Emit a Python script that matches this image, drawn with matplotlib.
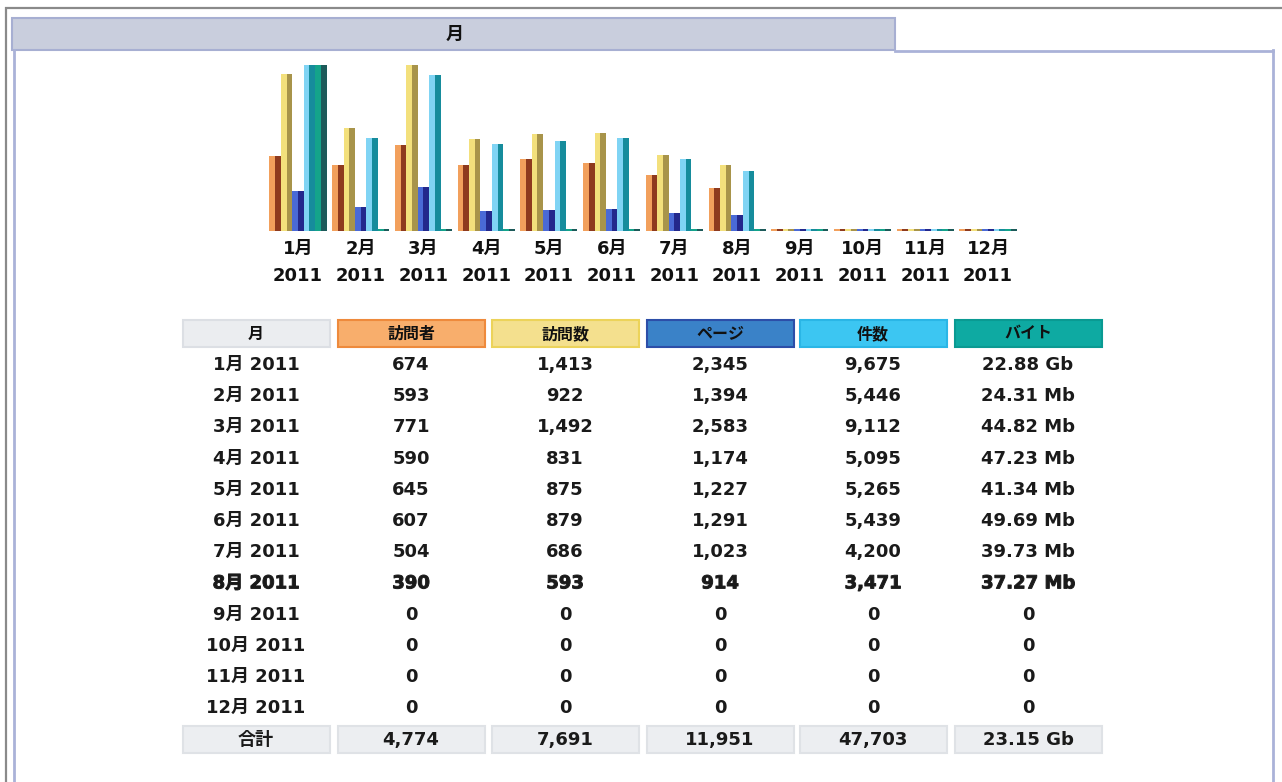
import numpy as np
import matplotlib
matplotlib.use('Agg')
import matplotlib.pyplot as plt
from matplotlib.patches import Rectangle
import matplotlib.patheffects as pe

plt.rcParams['font.family'] = ['DejaVu Sans', 'Noto Sans CJK JP']

# monthly history, 2011
months = ['1月', '2月', '3月', '4月', '5月', '6月', '7月', '8月', '9月', '10月', '11月', '12月']
year = '2011'
visitors = [674, 593, 771, 590, 645, 607, 504, 390, 0, 0, 0, 0]
visits = [1413, 922, 1492, 831, 875, 879, 686, 593, 0, 0, 0, 0]
pages = [2345, 1394, 2583, 1174, 1227, 1291, 1023, 914, 0, 0, 0, 0]
hits = [9675, 5446, 9112, 5095, 5265, 5439, 4200, 3471, 0, 0, 0, 0]
bytes_mb = [22.88 * 1024, 24.31, 44.82, 47.23, 41.34, 49.69, 39.73, 37.27, 0, 0, 0, 0]
bytes_labels = ['22.88 Gb', '24.31 Mb', '44.82 Mb', '47.23 Mb', '41.34 Mb', '49.69 Mb',
                '39.73 Mb', '37.27 Mb', '0', '0', '0', '0']
headers = ['月', '訪問者', '訪問数', 'ページ', '件数', 'バイト']
totals = ['合計', '4,774', '7,691', '11,951', '47,703', '23.15 Gb']
current = 7  # 8月 is the current month (bold row)

fig = plt.figure(figsize=(12.82, 7.82), dpi=100)
bg = fig.add_axes([0, 0, 1, 1])
bg.set_xlim(0, 1282)
bg.set_ylim(782, 0)
bg.axis('off')

# page frame
bg.plot([5, 1282], [7.5, 7.5], color='#8a8a8a', lw=1.6, solid_capstyle='butt')
bg.plot([5.5, 5.5], [7, 782], color='#8a8a8a', lw=1.6, solid_capstyle='butt')
bg.add_patch(Rectangle((12, 18), 883, 32, fc='#c9cedd', ec='#a7afd2', lw=1.5))
box = '#aab2d8'
bg.plot([13.5, 13.5], [50, 782], color=box, lw=2)
bg.plot([895, 1273], [50.5, 50.5], color=box, lw=2)
bg.plot([1273, 1273], [50, 782], color=box, lw=2)
bg.text(455, 35, '月', ha='center', va='center', fontsize=13, fontweight='bold', color='#111')

# bar chart
ax = fig.add_axes([266.6 / 1282, (782 - 231) / 782, 752.8 / 1282, 166 / 782])
ax.set_xlim(-0.5, 11.5)
ax.set_ylim(0, 1)
ax.axis('off')

x = np.arange(len(months))
w = 0.182
series = [
    (visitors, max(visits), '#f2a05c', '#8e3a1e'),
    (visits, max(visits), '#f3e07c', '#a8944a'),
    (pages, max(hits), '#4a6ad6', '#23288c'),
    (hits, max(hits), '#80d4f4', '#168c9c'),
    (bytes_mb, max(bytes_mb), '#14a48a', '#1d5a5a'),
]
for k, (vals, top, light, dark) in enumerate(series):
    h = np.maximum(np.array(vals, dtype=float) / top, 0.012)
    left = x + (k - 2.5) * w
    ax.bar(left, h, width=w / 2, align='edge', color=light, lw=0)
    ax.bar(left + w / 2, h, width=w / 2, align='edge', color=dark, lw=0)

for i, m in enumerate(months):
    ax.text(x[i], -0.105, m, transform=ax.get_xaxis_transform(), ha='center', va='center',
            fontsize=13, fontweight='bold', color='#111', clip_on=False)
    ax.text(x[i], -0.27, year, transform=ax.get_xaxis_transform(), ha='center', va='center',
            fontsize=13, fontweight='bold', color='#111', clip_on=False)

# table
cols = [256, 411, 565, 720, 873, 1028]
cw = 147
head_fill = ['#ebedf0', '#f8ae6c', '#f4e08e', '#3a82c8', '#3cc6f2', '#0eaaa2']
head_edge = ['#dcdfe4', '#ee8a3c', '#ecd35a', '#2c4ea8', '#2ab6e6', '#0a9a92']
for c, label in enumerate(headers):
    bg.add_patch(Rectangle((cols[c] - cw / 2, 320), cw, 27, fc=head_fill[c], ec=head_edge[c], lw=1.5))
    bg.text(cols[c], 334, label, ha='center', va='center', fontsize=11.5, fontweight='bold', color='#111')

rows = []
for i in range(len(months)):
    rows.append([months[i] + ' ' + year, f'{visitors[i]:,}', f'{visits[i]:,}',
                 f'{pages[i]:,}', f'{hits[i]:,}', bytes_labels[i]])
for i, row in enumerate(rows):
    y = 365 + 31.2 * i
    for c, val in enumerate(row):
        t = bg.text(cols[c], y, val, ha='center', va='center', fontsize=13, fontweight='bold', color='#1a1a1a')
        if i == current:
            # heavier weight for the current month, drawn as a single stroked path
            t.set_path_effects([pe.Stroke(linewidth=0.7, foreground='#1a1a1a')])

for c, val in enumerate(totals):
    bg.add_patch(Rectangle((cols[c] - cw / 2, 726), cw, 27, fc='#eceef1', ec='#dfe2e6', lw=1.5))
    bg.text(cols[c], 740, val, ha='center', va='center', fontsize=13, fontweight='bold', color='#1a1a1a')

fig.savefig('out.png', dpi=100, facecolor='white')
